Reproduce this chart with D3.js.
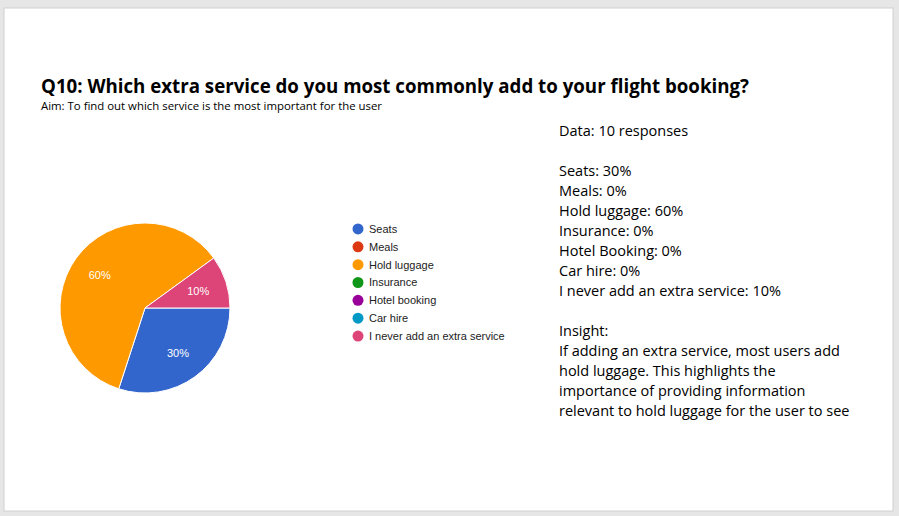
<!DOCTYPE html>
<html>
<head>
<script src="https://d3js.org/d3.v7.min.js"></script>
<style>
  body { margin: 0; background: #e6e6e6; }
  text { font-family: "Open Sans", sans-serif; }
</style>
</head>
<body>
<svg id="chart"></svg>
<script>
var categories = ["Seats", "Meals", "Hold luggage", "Insurance", "Hotel booking", "Car hire", "I never add an extra service"];
var values = [3, 0, 6, 0, 0, 0, 1];
var colors = ["#3366cc", "#dc3912", "#ff9900", "#109618", "#990099", "#0099c6", "#dd4477"];
var notes = ["Data: 10 responses", "", "Seats: 30%", "Meals: 0%", "Hold luggage: 60%", "Insurance: 0%",
  "Hotel Booking: 0%", "Car hire: 0%", "I never add an extra service: 10%", "", "Insight:",
  "If adding an extra service, most users add", "hold luggage. This highlights the",
  "importance of providing information", "relevant to hold luggage for the user to see"];

var width = 899, height = 516;
var svg = d3.select("#chart").attr("width", width).attr("height", height);

svg.append("rect").attr("x", 4).attr("y", 8).attr("width", 889).attr("height", 503)
  .attr("fill", "#fff").attr("stroke", "#d0d0d0");

svg.append("text").attr("x", 41).attr("y", 93)
  .attr("font-size", 19).attr("font-weight", "bold")
  .attr("textLength", 708).attr("lengthAdjust", "spacingAndGlyphs")
  .text("Q10: Which extra service do you most commonly add to your flight booking?");
svg.append("text").attr("x", 41).attr("y", 110)
  .attr("font-size", 10.5).attr("textLength", 341).attr("lengthAdjust", "spacingAndGlyphs")
  .text("Aim: To find out which service is the most important for the user");

// pie
var total = d3.sum(values);
var data = categories.map(function(c, i) { return {name: c, value: values[i], color: colors[i]}; });
var pie = d3.pie().sort(null).value(function(d) { return d.value; })
  .startAngle(Math.PI / 2).endAngle(Math.PI / 2 + 2 * Math.PI);
var arc = d3.arc().innerRadius(0).outerRadius(85);
var labelArc = d3.arc().innerRadius(56).outerRadius(56);

var g = svg.append("g").attr("transform", "translate(145,308)");
var arcs = pie(data).filter(function(d) { return d.value > 0; });
g.selectAll("path").data(arcs).enter().append("path")
  .attr("d", arc).attr("fill", function(d) { return d.data.color; })
  .attr("stroke", "#fff").attr("stroke-width", 1);
g.selectAll(".lbl").data(arcs).enter().append("text")
  .attr("transform", function(d) { return "translate(" + labelArc.centroid(d) + ")"; })
  .attr("text-anchor", "middle").attr("dy", "0.35em")
  .attr("font-family", "Arial, Liberation Sans, sans-serif").attr("font-size", 11).attr("fill", "#fff")
  .style("font-family", "'Liberation Sans', Arial, sans-serif")
  .text(function(d) { return Math.round(d.value / total * 100) + "%"; });

// legend
var ly = d3.scaleBand().domain(categories).range([220, 345]);
var leg = svg.append("g").selectAll("g").data(data).enter().append("g")
  .attr("transform", function(d) { return "translate(358," + (ly(d.name) + ly.bandwidth() / 2) + ")"; });
leg.append("circle").attr("r", 5.5).attr("fill", function(d) { return d.color; });
leg.append("text").attr("x", 11).attr("dy", "0.35em").attr("font-size", 11).attr("fill", "#222")
  .style("font-family", "'Liberation Sans', Arial, sans-serif")
  .text(function(d) { return d.name; });

// notes
svg.append("g").selectAll("text").data(notes).enter().append("text")
  .attr("x", 559).attr("y", function(d, i) { return 136 + i * 20; })
  .attr("font-size", 14.5).attr("fill", "#000")
  .text(function(d) { return d; });
</script>
</body>
</html>
